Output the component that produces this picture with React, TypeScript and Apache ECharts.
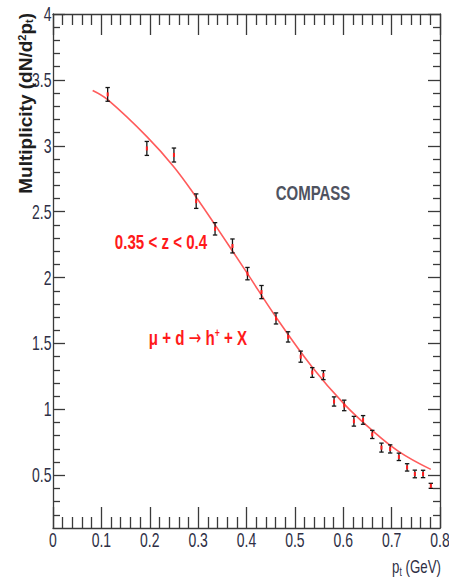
import React, { useEffect, useRef } from "react";
import * as echarts from "echarts";

// Measured multiplicity points: transverse momentum (GeV), value, statistical error
const ptValues = [
  0.113, 0.194, 0.25, 0.296, 0.335, 0.371, 0.402, 0.431, 0.461, 0.486, 0.512, 0.536, 0.559,
  0.581, 0.602, 0.622, 0.641, 0.66, 0.679, 0.697, 0.715, 0.732, 0.748, 0.765, 0.781,
];
const multiplicity = [
  3.39, 2.98, 2.93, 2.58, 2.37, 2.24, 2.03, 1.89, 1.69, 1.55, 1.4, 1.28, 1.26,
  1.06, 1.03, 0.91, 0.92, 0.81, 0.71, 0.7, 0.64, 0.56, 0.51, 0.51, 0.42,
];
const errors = [
  0.052, 0.053, 0.053, 0.055, 0.047, 0.053, 0.047, 0.05, 0.042, 0.039, 0.042, 0.037, 0.034,
  0.035, 0.04, 0.037, 0.033, 0.031, 0.034, 0.031, 0.028, 0.028, 0.029, 0.028, 0.019,
];

// Fit curve samples
const fitPt = [0.082, 0.113, 0.194, 0.25, 0.296, 0.335, 0.402, 0.461, 0.536, 0.602, 0.66, 0.715, 0.781];
const fitValues = [3.42, 3.35, 3.07, 2.84, 2.61, 2.4, 2.03, 1.7, 1.32, 1.04, 0.84, 0.68, 0.545];

// Axis ticks and their labels
const xTickValues = [0, 0.1, 0.2, 0.3, 0.4, 0.5, 0.6, 0.7, 0.8];
const xTickLabels = ["0", "0.1", "0.2", "0.3", "0.4", "0.5", "0.6", "0.7", "0.8"];
const yMajorTicks = [0.5, 1, 1.5, 2, 2.5, 3, 3.5, 4];
const yTickLabels = ["0.5", "1", "1.5", "2", "2.5", "3", "3.5", "4"];
const yMinorTicks = [
  0.2, 0.3, 0.4, 0.6, 0.7, 0.8, 0.9, 1.1, 1.2, 1.3, 1.4, 1.6, 1.7, 1.8, 1.9, 2.1, 2.2, 2.3, 2.4,
  2.6, 2.7, 2.8, 2.9, 3.1, 3.2, 3.3, 3.4, 3.6, 3.7, 3.8, 3.9,
];

const FONT = "'Liberation Sans', Arial, Helvetica, sans-serif";
const AXIS_COLOR = "#3a3a3a";
const LABEL_COLOR = "#2e2f45";
const RED = "#ff1a1a";
// Helvetica-style lettering is drawn horizontally condensed
const SQUEEZE = 0.7;

export default function App() {
  const ref = useRef<HTMLDivElement>(null);

  useEffect(() => {
    if (!ref.current) return;
    const chart = echarts.init(ref.current, undefined, { renderer: "svg" });

    const lineStyle = { color: AXIS_COLOR, width: 1.3 };
    const yBase = {
      type: "value" as const,
      min: 0.1,
      max: 4,
      splitLine: { show: false },
      axisLabel: { show: false },
    };
    const xBase = {
      type: "value" as const,
      min: 0,
      max: 0.8,
      interval: 0.1,
      splitLine: { show: false },
      axisLabel: { show: false },
      axisLine: { show: true, lineStyle },
      axisTick: { show: true, inside: true, length: 21, lineStyle },
      minorTick: { show: true, splitNumber: 5, length: 11, lineStyle },
    };

    chart.setOption({
      animation: false,
      backgroundColor: "#ffffff",
      grid: { left: 53, right: 9, top: 14, bottom: 54 },
      xAxis: [
        { ...xBase, position: "bottom" },
        { ...xBase, position: "top" },
      ],
      yAxis: [
        {
          ...yBase,
          position: "left",
          axisLine: { show: true, lineStyle },
          axisTick: { show: true, inside: true, length: 12, lineStyle, customValues: yMajorTicks },
        },
        {
          ...yBase,
          position: "left",
          axisLine: { show: false },
          axisTick: { show: true, inside: true, length: 7, lineStyle, customValues: yMinorTicks },
        },
        {
          ...yBase,
          position: "right",
          axisLine: { show: true, lineStyle },
          axisTick: { show: true, inside: true, length: 12, lineStyle, customValues: yMajorTicks },
        },
        {
          ...yBase,
          position: "right",
          axisLine: { show: false },
          axisTick: { show: true, inside: true, length: 7, lineStyle, customValues: yMinorTicks },
        },
      ],
      series: [
        {
          type: "line",
          xAxisIndex: 0,
          yAxisIndex: 0,
          data: fitPt.map((x, i) => [x, fitValues[i]]),
          smooth: 0.4,
          showSymbol: false,
          lineStyle: { color: "rgba(255, 50, 50, 0.8)", width: 1.6 },
          z: 2,
        },
        {
          type: "custom",
          xAxisIndex: 0,
          yAxisIndex: 0,
          data: ptValues.map((x, i) => [x, multiplicity[i], errors[i]]),
          encode: { x: 0, y: 1 },
          z: 3,
          renderItem: (_params: any, api: any) => {
            const x = api.value(0);
            const y = api.value(1);
            const e = api.value(2);
            const top = api.coord([x, y + e]);
            const bot = api.coord([x, y - e]);
            const c = api.coord([x, y]);
            const hw = 2.2;
            const stroke = { stroke: "#151515", lineWidth: 1.3 };
            return {
              type: "group",
              children: [
                { type: "line", shape: { x1: top[0], y1: top[1], x2: bot[0], y2: bot[1] }, style: stroke },
                { type: "line", shape: { x1: top[0] - hw, y1: top[1], x2: top[0] + hw, y2: top[1] }, style: stroke },
                { type: "line", shape: { x1: bot[0] - hw, y1: bot[1], x2: bot[0] + hw, y2: bot[1] }, style: stroke },
                { type: "rect", shape: { x: c[0] - 1, y: c[1] - 2, width: 2, height: 4 }, style: { fill: "#ff1e1e" } },
              ],
            };
          },
        },
      ],
    });

    // Condensed tick labels, placed through the axes' own scales
    const yBottom = chart.convertToPixel({ yAxisIndex: 0 }, 0.1) as number;
    const xLeft = chart.convertToPixel({ xAxisIndex: 0 }, 0) as number;
    const tickLabelStyle = {
      fontSize: 20,
      fontFamily: FONT,
      fill: LABEL_COLOR,
    };
    const xLabelGraphics = xTickValues.map((v, i) => ({
      type: "text",
      x: chart.convertToPixel({ xAxisIndex: 0 }, v) as number,
      y: yBottom + 2,
      scaleX: SQUEEZE,
      style: { ...tickLabelStyle, text: xTickLabels[i], align: "center", verticalAlign: "top" },
    }));
    const yLabelGraphics = yMajorTicks.map((v, i) => ({
      type: "text",
      x: xLeft - 1.5,
      y: chart.convertToPixel({ yAxisIndex: 0 }, v) as number,
      scaleX: SQUEEZE,
      style: { ...tickLabelStyle, text: yTickLabels[i], align: "right", verticalAlign: "middle" },
    }));

    chart.setOption({
      graphic: [
        ...xLabelGraphics,
        ...yLabelGraphics,
        {
          type: "text",
          x: 25,
          y: 13,
          rotation: Math.PI / 2,
          style: {
            text: "Multiplicity (dN/d{sup|2}p{sub|t})",
            align: "right",
            verticalAlign: "middle",
            fontSize: 19,
            fontWeight: "bold",
            fontFamily: FONT,
            fill: "#1e1e1e",
            rich: {
              sup: { fontSize: 11, fontWeight: "bold", fontFamily: FONT, padding: [0, 0, 7, 0], fill: "#1e1e1e" },
              sub: { fontSize: 11, fontWeight: "bold", fontFamily: FONT, padding: [7, 0, 0, 0], fill: "#1e1e1e" },
            },
          },
        },
        {
          type: "text",
          x: 441,
          y: 566,
          scaleX: SQUEEZE,
          style: {
            text: "p{sub|t} (GeV)",
            align: "right",
            verticalAlign: "middle",
            fontSize: 19,
            fontFamily: FONT,
            fill: LABEL_COLOR,
            rich: { sub: { fontSize: 12, fontFamily: FONT, padding: [11, 0, 0, 0], fill: LABEL_COLOR } },
          },
        },
        {
          type: "text",
          x: 313,
          y: 193,
          scaleX: 0.75,
          style: {
            text: "COMPASS",
            align: "center",
            verticalAlign: "middle",
            fontSize: 20,
            fontWeight: "bold",
            fontFamily: FONT,
            fill: "#4f5360",
          },
        },
        {
          type: "text",
          x: 161,
          y: 242,
          scaleX: 0.72,
          style: {
            text: "0.35 < z < 0.4",
            align: "center",
            verticalAlign: "middle",
            fontSize: 21,
            fontWeight: "bold",
            fontFamily: FONT,
            fill: RED,
          },
        },
        {
          type: "text",
          x: 198,
          y: 338,
          scaleX: 0.72,
          style: {
            text: "\u03bc + d {arrow|\u2192} h{sup|+} + X",
            align: "center",
            verticalAlign: "middle",
            fontSize: 21,
            fontWeight: "bold",
            fontFamily: FONT,
            fill: RED,
            rich: {
              sup: { fontSize: 12, fontWeight: "bold", fontFamily: FONT, padding: [0, 0, 11, 0], fill: RED },
              arrow: { fontSize: 21, fontFamily: "'DejaVu Sans', sans-serif", fill: RED },
            },
          },
        },
      ],
    });

    return () => chart.dispose();
  }, []);

  return (
    <div
      ref={ref}
      style={{ position: "fixed", left: 0, top: 0, width: 449, height: 582, background: "#fff" }}
    />
  );
}
